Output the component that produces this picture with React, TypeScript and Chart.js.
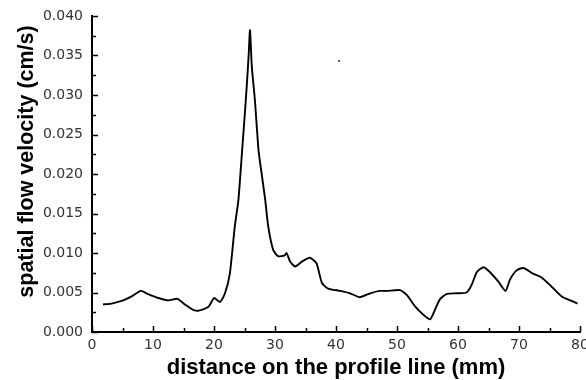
import React, { useEffect, useRef } from "react";
import { Chart, registerables } from "chart.js";

Chart.register(...registerables);

// distance on the profile line (mm)
const distance = [
  1.8, 3.2, 5.1, 6.5, 8.0, 9.2, 10.9, 12.5, 14.0, 15.2, 16.6, 17.5, 19.1, 20.0,
  21.0, 21.8, 22.6, 23.4, 24.0, 24.5, 25.1, 25.4, 25.7, 25.9, 26.2, 26.7, 27.3,
  27.8, 28.4, 28.9, 29.7, 30.5, 31.6, 31.9, 32.5, 33.3, 34.4, 35.7, 36.8, 37.7,
  38.7, 40.7, 42.3, 43.9, 45.6, 47.2, 48.3, 50.5, 51.6, 53.0, 54.3, 55.4, 56.0,
  57.0, 58.1, 59.8, 61.4, 62.2, 63.1, 64.2, 65.2, 66.6, 67.8, 68.5, 69.6, 70.7,
  72.3, 73.7, 75.4, 77.0, 78.4, 79.6,
];

// spatial flow velocity (cm/s)
const velocity = [
  0.0035, 0.0036, 0.004, 0.0045, 0.0052, 0.0048, 0.0043, 0.004, 0.0042, 0.0035,
  0.0028, 0.0027, 0.0032, 0.0043, 0.0038, 0.0049, 0.0074, 0.0133, 0.0167,
  0.0218, 0.0281, 0.0315, 0.0353, 0.0382, 0.0336, 0.0294, 0.023, 0.0201, 0.0167,
  0.0133, 0.0104, 0.0096, 0.0097, 0.01, 0.0089, 0.0083, 0.0089, 0.0094, 0.0087,
  0.0062, 0.0055, 0.0052, 0.0049, 0.0044, 0.0049, 0.0052, 0.0052, 0.0053,
  0.0047, 0.0032, 0.0022, 0.0016, 0.0024, 0.0041, 0.0048, 0.0049, 0.005,
  0.0059, 0.0076, 0.0082, 0.0076, 0.0064, 0.0052, 0.0066, 0.0078, 0.0081,
  0.0074, 0.0069, 0.0057, 0.0045, 0.004, 0.0036,
];

// small stray speck visible in the original figure
const speckX = [40.5];
const speckY = [0.0343];

const xTitle = "distance on the profile line (mm)";
const yTitle = "spatial flow velocity (cm/s)";
const xMin = 0;
const xMax = 80;
const xStep = 10;
const yMin = 0;
const yMax = 0.04;
const yStep = 0.005;

const tickFont = { family: "DejaVu Sans", size: 14 };

const decorPlugin = {
  id: "decor",
  afterDraw(chart: any) {
    const { ctx, chartArea, scales } = chart;
    const xs = scales.x;
    const ys = scales.y;
    ctx.save();
    ctx.strokeStyle = "#000";
    ctx.lineWidth = 1.5;
    // inward ticks on x axis
    for (let v = xMin; v <= xMax + 1e-9; v += xStep / 2) {
      const major = Math.abs(v / xStep - Math.round(v / xStep)) < 1e-6;
      const px = Math.round(xs.getPixelForValue(v)) + 0.5;
      const len = major ? 6 : 4;
      ctx.beginPath();
      ctx.moveTo(px, chartArea.bottom);
      ctx.lineTo(px, chartArea.bottom - len);
      ctx.stroke();
    }
    // inward ticks on y axis
    for (let i = 0; i <= Math.round((yMax - yMin) / (yStep / 2)); i++) {
      const v = yMin + (i * yStep) / 2;
      const major = i % 2 === 0;
      const py = Math.round(ys.getPixelForValue(v)) + 0.5;
      const len = major ? 6 : 4;
      ctx.beginPath();
      ctx.moveTo(chartArea.left, py);
      ctx.lineTo(chartArea.left + len, py);
      ctx.stroke();
    }
    // axis titles
    ctx.fillStyle = "#000";
    ctx.font = "bold 22px 'Liberation Sans', Arial, sans-serif";
    ctx.textAlign = "center";
    ctx.textBaseline = "alphabetic";
    ctx.fillText(xTitle, (chartArea.left + chartArea.right) / 2, chartArea.bottom + 42);
    ctx.save();
    ctx.translate(chartArea.left - 59, (chartArea.top + chartArea.bottom) / 2 - 12.5);
    ctx.rotate(-Math.PI / 2);
    ctx.font = "bold 21.5px 'Liberation Sans', Arial, sans-serif";
    ctx.fillText(yTitle, 0, 0);
    ctx.restore();
    ctx.restore();
  },
};

export default function App() {
  const ref = useRef<HTMLCanvasElement | null>(null);
  useEffect(() => {
    if (!ref.current) return;
    const chart = new Chart(ref.current, {
      type: "line",
      data: {
        datasets: [
          {
            label: "velocity",
            data: distance.map((d, i) => ({ x: d, y: velocity[i] })),
            borderColor: "#000",
            borderWidth: 1.9,
            pointRadius: 0,
            tension: 0.2,
            fill: false,
          },
          {
            label: "speck",
            data: speckX.map((d, i) => ({ x: d, y: speckY[i] })),
            showLine: false,
            pointRadius: 1,
            pointBorderWidth: 0,
            pointBackgroundColor: "#222",
          },
        ],
      },
      options: {
        animation: false,
        responsive: false,
        layout: { padding: { top: 16, right: 6, left: 0, bottom: 0 } },
        plugins: {
          legend: { display: false },
          tooltip: { enabled: false },
          title: { display: false },
        },
        scales: {
          x: {
            type: "linear",
            min: xMin,
            max: xMax,
            grid: { display: false, drawTicks: false },
            border: { display: true, color: "#000", width: 2 },
            ticks: {
              stepSize: xStep,
              font: tickFont,
              color: "#333",
              padding: 5,
              maxRotation: 0,
              callback: (v: any) => String(v),
            },
            afterFit: (s: any) => {
              s.height = 48;
              s.paddingLeft = 0;
              s.paddingRight = 0;
            },
          },
          y: {
            type: "linear",
            min: yMin,
            max: yMax,
            grid: { display: false, drawTicks: false },
            border: { display: true, color: "#000", width: 2 },
            ticks: {
              stepSize: yStep,
              font: tickFont,
              color: "#333",
              padding: 9,
              callback: (v: any) => Number(v).toFixed(3),
            },
            afterFit: (s: any) => {
              s.width = 92;
              s.paddingTop = 0;
              s.paddingBottom = 0;
            },
          },
        },
      },
      plugins: [decorPlugin],
    });
    return () => chart.destroy();
  }, []);
  return (
    <div style={{ position: "absolute", left: 0, top: 0, width: 586, height: 380, background: "#fff" }}>
      <canvas ref={ref} width={586} height={380} style={{ display: "block" }} />
    </div>
  );
}
